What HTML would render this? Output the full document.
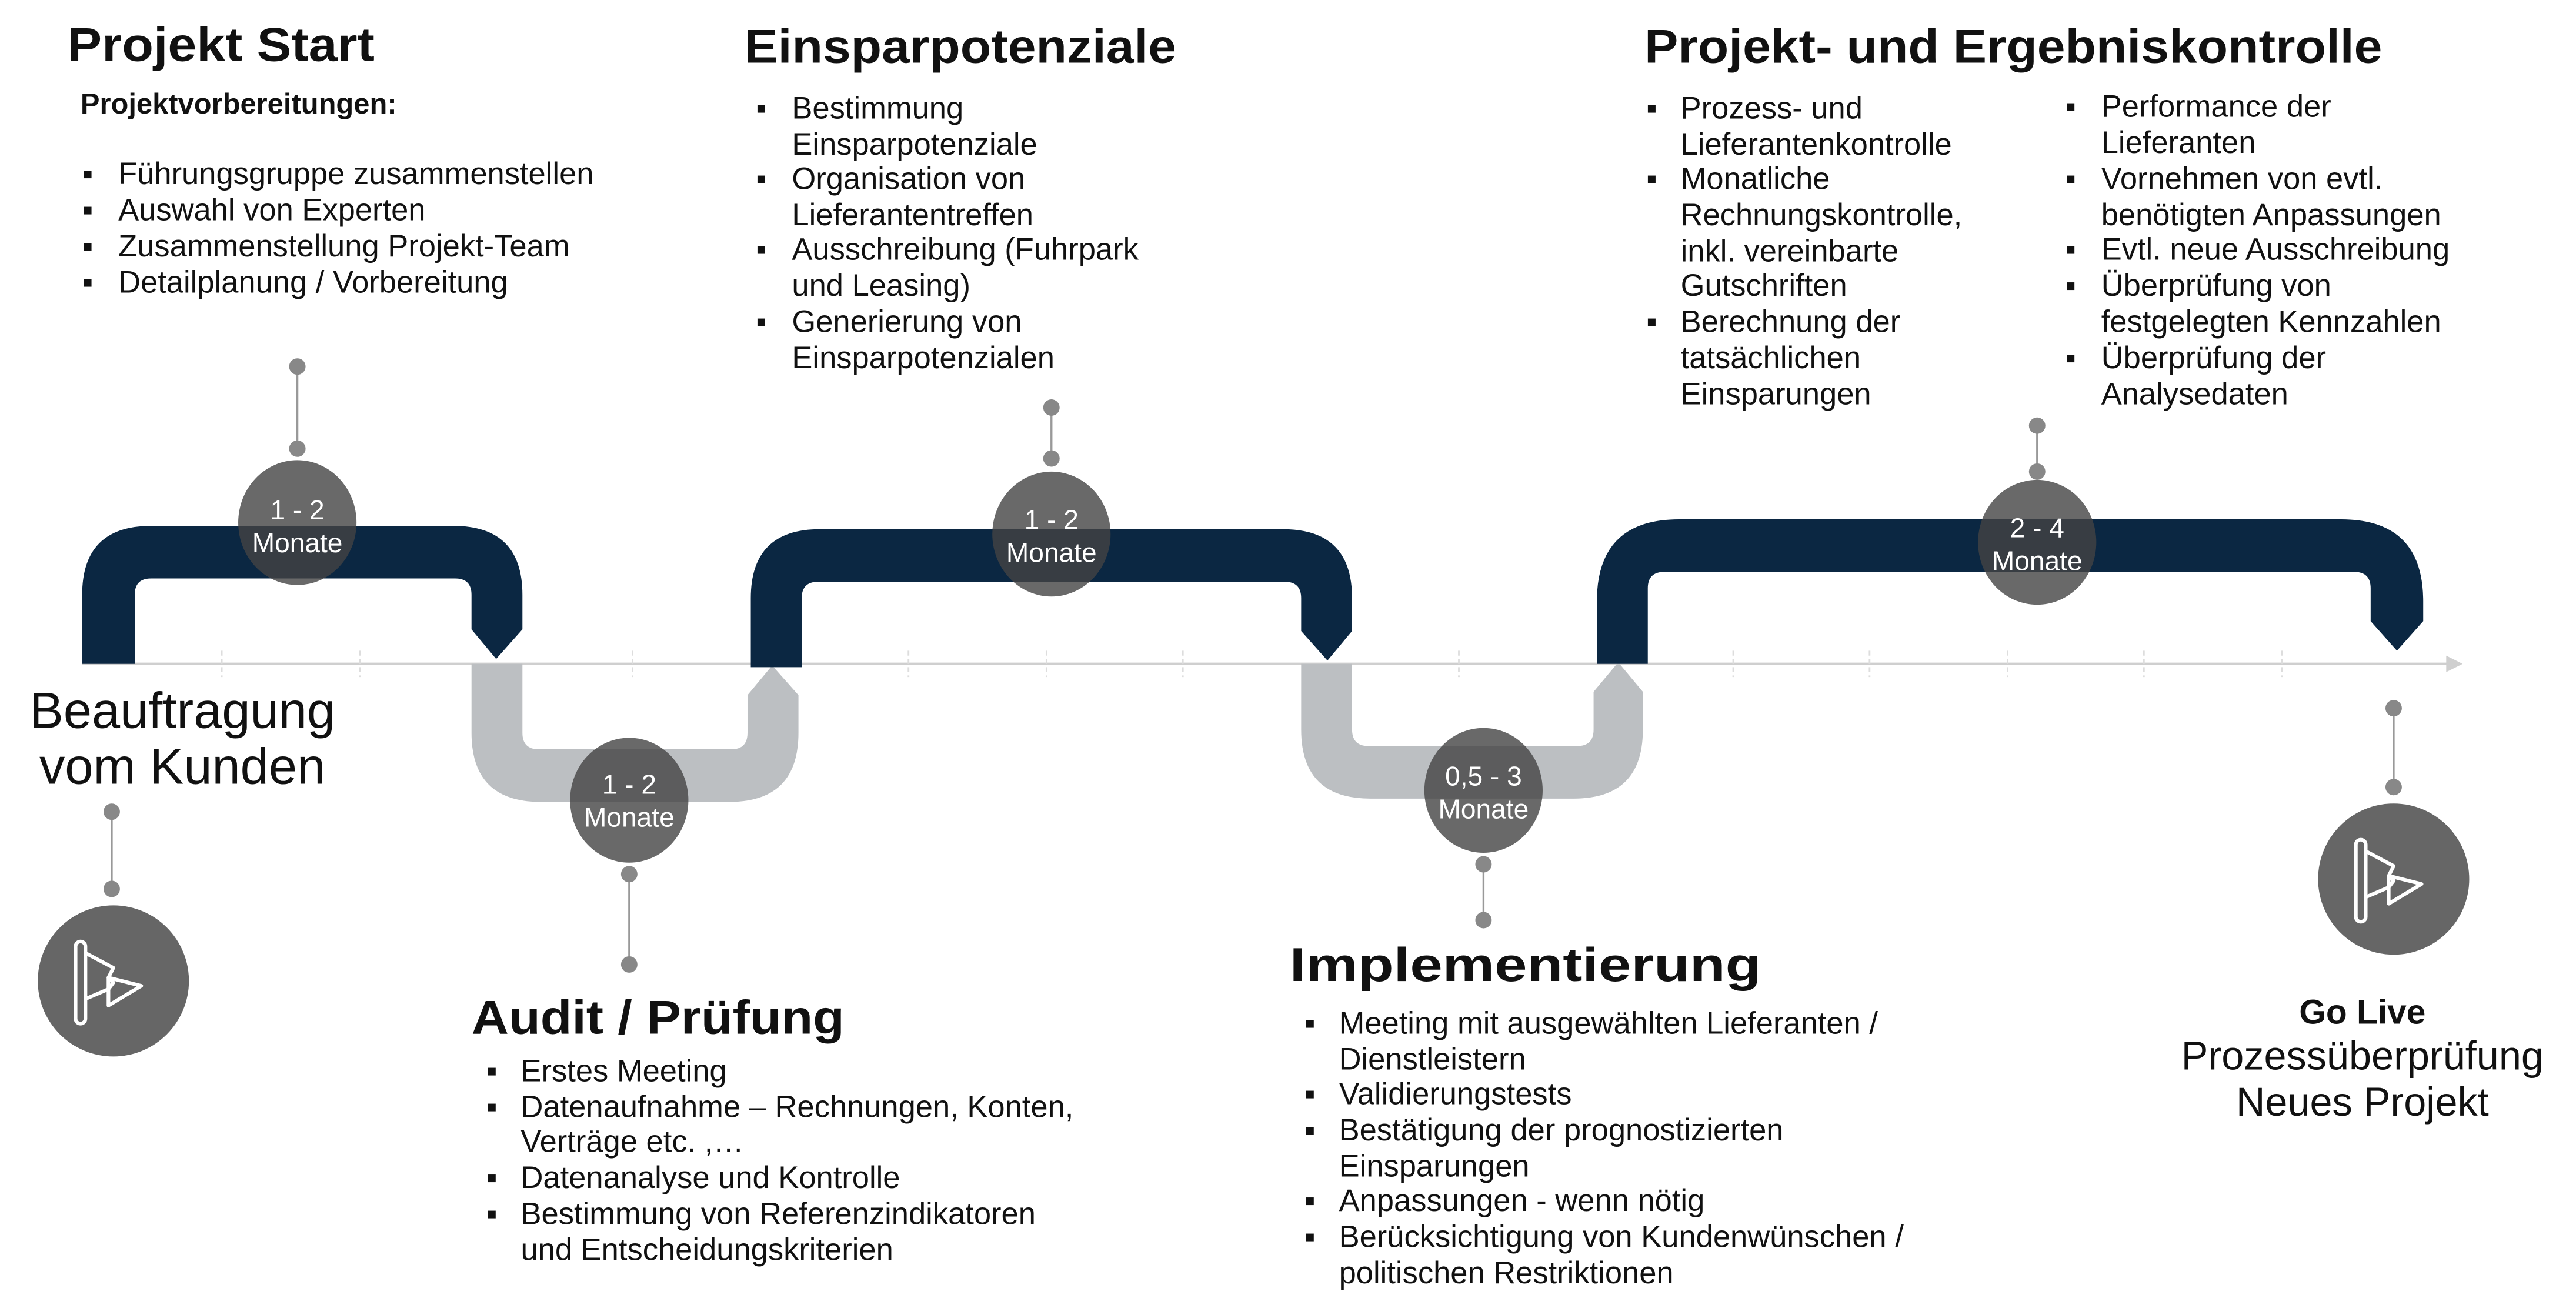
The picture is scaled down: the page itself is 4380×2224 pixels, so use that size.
<!DOCTYPE html>
<html><head><meta charset="utf-8"><style>
html,body{margin:0;padding:0;background:#fff;}
svg{display:block;}
text{font-family:"Liberation Sans",sans-serif;fill:#111;}
.t{font-weight:bold;font-size:29px;}
.b{font-size:18.8px;}
.m{font-size:16.5px;fill:#fff;text-anchor:middle;}
</style></head><body>
<svg width="4380" height="2224" viewBox="0 0 1568 796" xmlns="http://www.w3.org/2000/svg">
<line x1="50" y1="404" x2="1490" y2="404" stroke="#cfcfcf" stroke-width="1.5"/>
<path d="M1489,399 L1499,404 L1489,409 Z" fill="#cfcfcf"/>
<g stroke="#ddd" stroke-width="1" stroke-dasharray="3,2">
<line x1="135" y1="396" x2="135" y2="412"/><line x1="219" y1="396" x2="219" y2="412"/>
<line x1="385" y1="396" x2="385" y2="412"/><line x1="553" y1="396" x2="553" y2="412"/>
<line x1="637" y1="396" x2="637" y2="412"/><line x1="720" y1="396" x2="720" y2="412"/>
<line x1="888" y1="396" x2="888" y2="412"/><line x1="1055" y1="396" x2="1055" y2="412"/>
<line x1="1138" y1="396" x2="1138" y2="412"/><line x1="1222" y1="396" x2="1222" y2="412"/>
<line x1="1305" y1="396" x2="1305" y2="412"/><line x1="1389" y1="396" x2="1389" y2="412"/>
</g>
<path d="M50,404 V362 Q50,320 92,320 H276 Q318,320 318,362 V383 L302,401 L287,383 V362 Q287,352 277,352 H92 Q82,352 82,362 V404 Z" fill="#0b2742"/>
<path d="M287,404 H318 V446 Q318,456 328,456 H445 Q455,456 455,446 V423 L470,405 L486,423 V446 Q486,488 444,488 H329 Q287,488 287,446 Z" fill="#bcbfc2"/>
<path d="M457,406 V364 Q457,322 499,322 H781 Q823,322 823,364 V384 L808,402 L792,384 V364 Q792,354 782,354 H498 Q488,354 488,364 V406 Z" fill="#0b2742"/>
<path d="M792,404 H823 V444 Q823,454 833,454 H960 Q970,454 970,444 V421 L985,403 L1000,421 V444 Q1000,486 958,486 H834 Q792,486 792,444 Z" fill="#bcbfc2"/>
<path d="M972,404 V366 Q972,316 1022,316 H1425 Q1475,316 1475,366 V378 L1459,396 L1443,378 V358 Q1443,348 1433,348 H1013 Q1003,348 1003,358 V404 Z" fill="#0b2742"/>
<g stroke="#999" stroke-width="1.2">
<line x1="181" y1="223" x2="181" y2="273"/><line x1="383" y1="532" x2="383" y2="587"/>
<line x1="640" y1="248" x2="640" y2="279"/><line x1="903" y1="526" x2="903" y2="560"/>
<line x1="1240" y1="259" x2="1240" y2="287"/><line x1="1457" y1="431" x2="1457" y2="479"/>
<line x1="68" y1="494" x2="68" y2="541"/>
</g>
<g fill="#888">
<circle cx="181" cy="223" r="5"/><circle cx="181" cy="273" r="5"/>
<circle cx="383" cy="532" r="5"/><circle cx="383" cy="587" r="5"/>
<circle cx="640" cy="248" r="5"/><circle cx="640" cy="279" r="5"/>
<circle cx="903" cy="526" r="5"/><circle cx="903" cy="560" r="5"/>
<circle cx="1240" cy="259" r="5"/><circle cx="1240" cy="287" r="5"/>
<circle cx="1457" cy="431" r="5"/><circle cx="1457" cy="479" r="5"/>
<circle cx="68" cy="494" r="5"/><circle cx="68" cy="541" r="5"/>
</g>
<g fill="#444" fill-opacity="0.8">
<ellipse cx="181" cy="318" rx="36" ry="38"/><ellipse cx="383" cy="487" rx="36" ry="38"/>
<ellipse cx="640" cy="325" rx="36" ry="38"/><ellipse cx="903" cy="481" rx="36" ry="38"/>
<ellipse cx="1240" cy="330" rx="36" ry="38"/>
</g>
<text class="m" x="181" y="316">1 - 2</text><text class="m" x="181" y="336">Monate</text>
<text class="m" x="383" y="483">1 - 2</text><text class="m" x="383" y="503">Monate</text>
<text class="m" x="640" y="322">1 - 2</text><text class="m" x="640" y="342">Monate</text>
<text class="m" x="903" y="478">0,5 - 3</text><text class="m" x="903" y="498">Monate</text>
<text class="m" x="1240" y="327">2 - 4</text><text class="m" x="1240" y="347">Monate</text>
<g>
<ellipse cx="69" cy="597" rx="46" ry="46" fill="#666"/>
<ellipse cx="1457" cy="535" rx="46" ry="46" fill="#666"/>
<g fill="none" stroke="#fff" stroke-width="2.2" stroke-linejoin="round">
<rect x="46" y="573" width="6" height="50" rx="3"/>
<path d="M52,580 L69,589 L66,595 L69,598 L66,602 L52,608"/>
<path d="M66,595 L66,612 L86,600 Z"/>
<rect x="1434" y="511" width="6" height="50" rx="3"/>
<path d="M1440,518 L1457,527 L1454,533 L1457,536 L1454,540 L1440,546"/>
<path d="M1454,533 L1454,550 L1474,538 Z"/>
</g>
</g>
<text class="t" x="41" y="37" textLength="187" lengthAdjust="spacingAndGlyphs">Projekt Start</text>
<text class="t" x="453" y="38" textLength="263" lengthAdjust="spacingAndGlyphs">Einsparpotenziale</text>
<text class="t" x="1001" y="38" textLength="449" lengthAdjust="spacingAndGlyphs">Projekt- und Ergebniskontrolle</text>
<text class="t" x="287" y="629" textLength="227" lengthAdjust="spacingAndGlyphs">Audit / Prüfung</text>
<text class="t" x="785" y="597" textLength="287" lengthAdjust="spacingAndGlyphs">Implementierung</text>
<text x="49" y="69" style="font-weight:bold;font-size:17.5px">Projektvorbereitungen:</text>
<g>
<text class="b" x="50" y="112">▪</text><text class="b" x="72" y="112">Führungsgruppe zusammenstellen</text>
<text class="b" x="50" y="134">▪</text><text class="b" x="72" y="134">Auswahl von Experten</text>
<text class="b" x="50" y="156">▪</text><text class="b" x="72" y="156">Zusammenstellung Projekt-Team</text>
<text class="b" x="50" y="178">▪</text><text class="b" x="72" y="178">Detailplanung / Vorbereitung</text>

<text class="b" x="460" y="72">▪</text><text class="b" x="482" y="72">Bestimmung</text>
<text class="b" x="482" y="94">Einsparpotenziale</text>
<text class="b" x="460" y="115">▪</text><text class="b" x="482" y="115">Organisation von</text>
<text class="b" x="482" y="137">Lieferantentreffen</text>
<text class="b" x="460" y="158">▪</text><text class="b" x="482" y="158">Ausschreibung (Fuhrpark</text>
<text class="b" x="482" y="180">und Leasing)</text>
<text class="b" x="460" y="202">▪</text><text class="b" x="482" y="202">Generierung von</text>
<text class="b" x="482" y="224">Einsparpotenzialen</text>

<text class="b" x="1002" y="72">▪</text><text class="b" x="1023" y="72">Prozess- und</text>
<text class="b" x="1023" y="94">Lieferantenkontrolle</text>
<text class="b" x="1002" y="115">▪</text><text class="b" x="1023" y="115">Monatliche</text>
<text class="b" x="1023" y="137">Rechnungskontrolle,</text>
<text class="b" x="1023" y="159">inkl. vereinbarte</text>
<text class="b" x="1023" y="180">Gutschriften</text>
<text class="b" x="1002" y="202">▪</text><text class="b" x="1023" y="202">Berechnung der</text>
<text class="b" x="1023" y="224">tatsächlichen</text>
<text class="b" x="1023" y="246">Einsparungen</text>

<text class="b" x="1257" y="71">▪</text><text class="b" x="1279" y="71">Performance der</text>
<text class="b" x="1279" y="93">Lieferanten</text>
<text class="b" x="1257" y="115">▪</text><text class="b" x="1279" y="115">Vornehmen von evtl.</text>
<text class="b" x="1279" y="137">benötigten Anpassungen</text>
<text class="b" x="1257" y="158">▪</text><text class="b" x="1279" y="158">Evtl. neue Ausschreibung</text>
<text class="b" x="1257" y="180">▪</text><text class="b" x="1279" y="180">Überprüfung von</text>
<text class="b" x="1279" y="202">festgelegten Kennzahlen</text>
<text class="b" x="1257" y="224">▪</text><text class="b" x="1279" y="224">Überprüfung der</text>
<text class="b" x="1279" y="246">Analysedaten</text>

<text class="b" x="296" y="658">▪</text><text class="b" x="317" y="658">Erstes Meeting</text>
<text class="b" x="296" y="680">▪</text><text class="b" x="317" y="680">Datenaufnahme – Rechnungen, Konten,</text>
<text class="b" x="317" y="701">Verträge etc. ,…</text>
<text class="b" x="296" y="723">▪</text><text class="b" x="317" y="723">Datenanalyse und Kontrolle</text>
<text class="b" x="296" y="745">▪</text><text class="b" x="317" y="745">Bestimmung von Referenzindikatoren</text>
<text class="b" x="317" y="767">und Entscheidungskriterien</text>

<text class="b" x="794" y="629">▪</text><text class="b" x="815" y="629">Meeting mit ausgewählten Lieferanten /</text>
<text class="b" x="815" y="651">Dienstleistern</text>
<text class="b" x="794" y="672">▪</text><text class="b" x="815" y="672">Validierungstests</text>
<text class="b" x="794" y="694">▪</text><text class="b" x="815" y="694">Bestätigung der prognostizierten</text>
<text class="b" x="815" y="716">Einsparungen</text>
<text class="b" x="794" y="737">▪</text><text class="b" x="815" y="737">Anpassungen - wenn nötig</text>
<text class="b" x="794" y="759">▪</text><text class="b" x="815" y="759">Berücksichtigung von Kundenwünschen /</text>
<text class="b" x="815" y="781">politischen Restriktionen</text>
</g>
<text x="111" y="443" style="font-size:31px" text-anchor="middle">Beauftragung</text>
<text x="111" y="477" style="font-size:31px" text-anchor="middle">vom Kunden</text>
<text x="1438" y="623" style="font-size:21px;font-weight:bold" text-anchor="middle">Go Live</text>
<text x="1438" y="651" style="font-size:24.5px" text-anchor="middle">Prozessüberprüfung</text>
<text x="1438" y="679" style="font-size:24.5px" text-anchor="middle">Neues Projekt</text>
</svg>
</body></html>
